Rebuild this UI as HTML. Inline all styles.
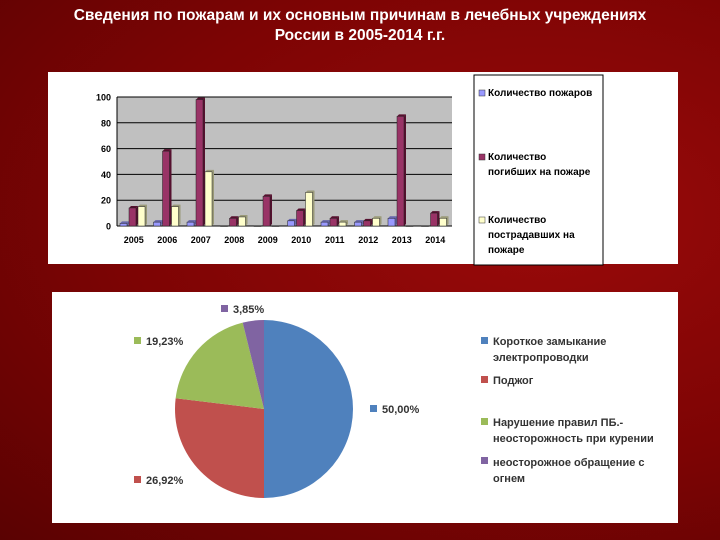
<!DOCTYPE html>
<html><head><meta charset="utf-8"><style>
body{margin:0;width:720px;height:540px;overflow:hidden;font-family:"Liberation Sans","Noto Sans CJK SC",sans-serif;}
#bg{position:absolute;left:0;top:0;width:720px;height:540px;background:radial-gradient(ellipse at 75% 40%,#9a0a0a 0%,#7d0404 55%,#5a0202 100%);}
#title{position:absolute;left:0;top:6px;width:720px;text-align:center;color:#fff;font-weight:bold;font-size:15.5px;line-height:20px;}
svg{position:absolute;left:0;top:0;}
</style></head><body>
<div id="bg"></div>
<div id="title">Сведения по пожарам и их основным причинам в лечебных учреждениях<br>России в 2005-2014 г.г.</div>
<svg width="720" height="540" id="svg" font-family="Liberation Sans, Noto Sans CJK SC, sans-serif">
<rect x="48" y="72" width="630" height="192" fill="#fff"/>
<rect x="117" y="97" width="335" height="129" fill="#c0c0c0"/>
<g id="bars"></g>
<rect x="474" y="75" width="129" height="190" fill="#fff" stroke="#000" stroke-width="1"/>
<g font-size="10" fill="#000" font-weight="bold">
<rect x="479" y="90" width="6" height="6" fill="#9999ff" stroke="#333" stroke-width="0.5"/>
<text x="488" y="96">Количество пожаров</text>
<rect x="479" y="154" width="6" height="6" fill="#993366" stroke="#333" stroke-width="0.5"/>
<text x="488" y="160">Количество</text>
<text x="488" y="175">погибших на пожаре</text>
<rect x="479" y="217" width="6" height="6" fill="#ffffcc" stroke="#333" stroke-width="0.5"/>
<text x="488" y="223">Количество</text>
<text x="488" y="238">пострадавших на</text>
<text x="488" y="253">пожаре</text>
</g>
<rect x="52" y="292" width="626" height="231" fill="#fff"/>
<g id="pie"></g>
<g font-size="11" fill="#333" font-weight="bold">
<rect x="481" y="337" width="7" height="7" fill="#4f81bd"/><text x="493" y="345">Короткое замыкание</text>
<text x="493" y="361">электропроводки</text>
<rect x="481" y="376" width="7" height="7" fill="#c0504d"/><text x="493" y="384">Поджог</text>
<rect x="481" y="418" width="7" height="7" fill="#9bbb59"/><text x="493" y="426">Нарушение правил  ПБ.-</text>
<text x="493" y="442">неосторожность при курении</text>
<rect x="481" y="457" width="7" height="7" fill="#8064a2"/><text x="493" y="466">неосторожное обращение с</text>
<text x="493" y="482">огнем</text>
</g>
</svg>
<script>
const years=["2005","2006","2007","2008","2009","2010","2011","2012","2013","2014"];
const fires=[2,3,3,0,0,4,3,3,6,0];
const deaths=[14,58,98,6,23,12,6,4,85,10];
const injured=[15,15,42,7,0,26,3,6,0,6];
const yTicks=[0,20,40,60,80,100];
const pieLabels=["50,00%","26,92%","19,23%","3,85%"];
const pieValues=[50.00,26.92,19.23,3.85];
const NS="http://www.w3.org/2000/svg";
function mk(t,a,p){const e=document.createElementNS(NS,t);for(const k in a)e.setAttribute(k,a[k]);p.appendChild(e);return e;}
const X0=117,X1=452,Y0=226,Y1=97;
const ys=v=>Y0-(v/100)*(Y0-Y1);
const gw=(X1-X0)/years.length;
const bg=document.getElementById('bars');
yTicks.forEach(t=>{
 if(t>0){const l=mk('line',{x1:X0,x2:X1,y1:ys(t),y2:ys(t),stroke:'#000','stroke-width':1},bg);
 
 }
 const tx=mk('text',{x:X0-6,y:ys(t)+3.5,'text-anchor':'end','font-size':9,'font-weight':'bold'},bg);tx.textContent=t;
 
 
});
mk('line',{x1:X0,x2:X1,y1:Y0,y2:Y0,stroke:'#000'},bg);
mk('line',{x1:X0,x2:X0,y1:Y1,y2:Y0,stroke:'#000'},bg);
const series=[[fires,'#9999ff','#6666aa'],[deaths,'#993366','#55102e'],[injured,'#ffffcc','#999977']];
years.forEach((y,i)=>{
 const gx=X0+i*gw;
 series.forEach((s,j)=>{
  const v=s[0][i];const x=gx+3+j*9;const top=ys(v);const h=Y0-top;
  if(h>0){
   mk('polygon',{points:`${x+7},${top} ${x+9},${top-2} ${x+9},${Y0-2} ${x+7},${Y0}`,fill:s[2]},bg);
   mk('polygon',{points:`${x},${top} ${x+2},${top-2} ${x+9},${top-2} ${x+7},${top}`,fill:s[2]},bg);
  }
  const r=mk('rect',{x:x,y:top,width:7,height:Math.max(h,0.5),fill:s[1],stroke:'#222','stroke-width':0.5},bg);
  
  
 });
 const t=mk('text',{x:gx+gw/2,y:243,'text-anchor':'middle','font-size':9,'font-weight':'bold'},bg);t.textContent=y;
 
 
});
const pg=document.getElementById('pie');
const cx=264,cy=409,R=89;const cols=['#4f81bd','#c0504d','#9bbb59','#8064a2'];
const lpos=[[370,412],[134,483],[134,344],[221,312]];
const tot=pieValues.reduce((a,b)=>a+b,0);let a0=-Math.PI/2;
pieValues.forEach((v,i)=>{
 const a1=a0+v/tot*2*Math.PI;
 const p=`M${cx},${cy} L${cx+R*Math.cos(a0)},${cy+R*Math.sin(a0)} A${R},${R} 0 ${a1-a0>Math.PI?1:0} 1 ${cx+R*Math.cos(a1)},${cy+R*Math.sin(a1)} Z`;
 const e=mk('path',{d:p,fill:cols[i]},pg);
 
 
 a0=a1;
 mk('rect',{x:lpos[i][0],y:lpos[i][1]-7,width:7,height:7,fill:cols[i]},pg);
 const t=mk('text',{x:lpos[i][0]+12,y:lpos[i][1]+1,'font-size':11,'font-weight':'bold',fill:'#333'},pg);t.textContent=pieLabels[i];
 
 
});
</script>
</body></html>
